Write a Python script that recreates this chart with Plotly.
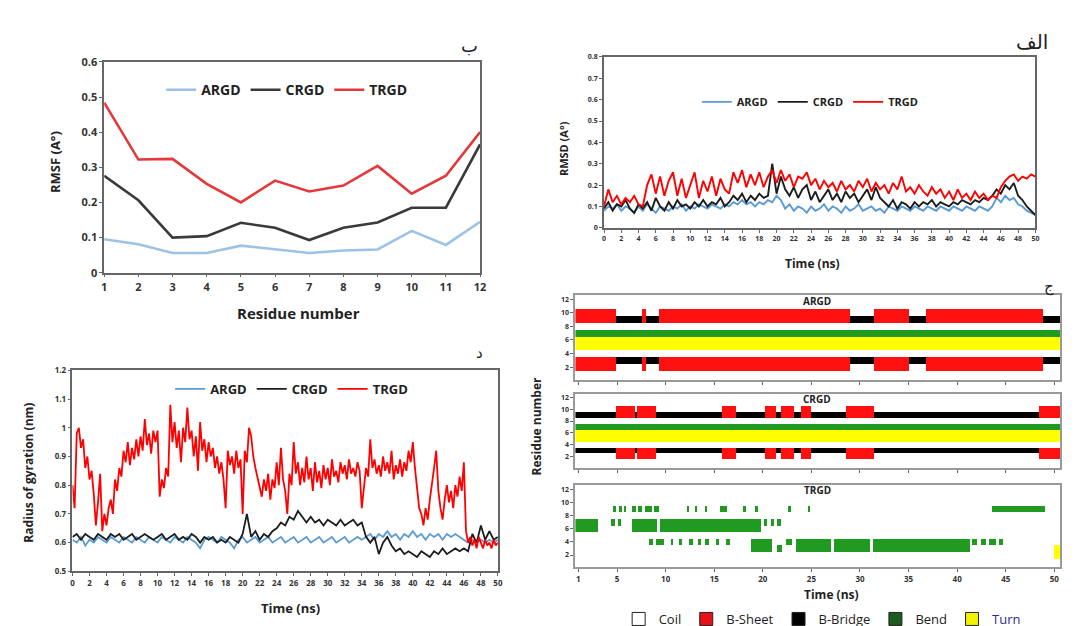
import plotly.graph_objects as go

W, H = 1078, 626

# ---------------- DATA ----------------
series_names = ["ARGD", "CRGD", "TRGD"]

# RMSF per residue
residues = list(range(1, 13))
rmsf_argd = [0.095, 0.081, 0.056, 0.056, 0.077, 0.067, 0.056, 0.063, 0.066, 0.119, 0.079, 0.145]
rmsf_crgd = [0.276, 0.206, 0.100, 0.104, 0.142, 0.128, 0.093, 0.128, 0.143, 0.185, 0.185, 0.365]
rmsf_trgd = [0.484, 0.322, 0.324, 0.253, 0.200, 0.262, 0.231, 0.248, 0.304, 0.225, 0.276, 0.400]

# RMSD vs time, sampled every 0.5 ns (0..50)
rmsd_argd = [0.08, 0.10, 0.09, 0.11, 0.08, 0.10, 0.09, 0.07, 0.10, 0.08,
             0.11, 0.09, 0.07, 0.10, 0.09, 0.08, 0.10, 0.09, 0.11, 0.08,
             0.10, 0.09, 0.11, 0.10, 0.09, 0.11, 0.10, 0.09, 0.11, 0.10,
             0.12, 0.11, 0.13, 0.11, 0.12, 0.10, 0.12, 0.11, 0.13, 0.12,
             0.15, 0.13, 0.09, 0.11, 0.08, 0.10, 0.09, 0.07, 0.10, 0.08,
             0.09, 0.11, 0.08, 0.10, 0.09, 0.07, 0.10, 0.08, 0.09, 0.11,
             0.08, 0.09, 0.10, 0.08, 0.09, 0.07, 0.10, 0.09, 0.08, 0.10,
             0.09, 0.08, 0.10, 0.09, 0.08, 0.10, 0.09, 0.08, 0.10, 0.09,
             0.08, 0.10, 0.09, 0.08, 0.10, 0.09, 0.08, 0.10, 0.09, 0.08,
             0.10, 0.14, 0.12, 0.15, 0.13, 0.14, 0.11, 0.10, 0.08, 0.07,
             0.06]
rmsd_crgd = [0.09, 0.12, 0.08, 0.11, 0.10, 0.13, 0.09, 0.07, 0.11, 0.09,
             0.12, 0.08, 0.14, 0.10, 0.08, 0.12, 0.09, 0.13, 0.10, 0.11,
             0.09, 0.12, 0.10, 0.13, 0.10, 0.12, 0.11, 0.14, 0.10, 0.12,
             0.15, 0.13, 0.16, 0.12, 0.15, 0.13, 0.16, 0.14, 0.15, 0.30,
             0.16, 0.24, 0.18, 0.15, 0.19, 0.14, 0.18, 0.20, 0.13, 0.17,
             0.12, 0.15, 0.18, 0.13, 0.16, 0.12, 0.17, 0.14, 0.16, 0.12,
             0.15, 0.18, 0.13, 0.19, 0.14, 0.12, 0.10, 0.13, 0.09, 0.12,
             0.11, 0.09, 0.12, 0.10, 0.12, 0.11, 0.13, 0.10, 0.12, 0.11,
             0.10, 0.12, 0.11, 0.13, 0.12, 0.11, 0.13, 0.12, 0.14, 0.13,
             0.15, 0.18, 0.16, 0.20, 0.18, 0.21, 0.15, 0.13, 0.10, 0.08,
             0.06]
rmsd_trgd = [0.10, 0.18, 0.12, 0.15, 0.11, 0.14, 0.12, 0.15, 0.11, 0.10,
             0.20, 0.25, 0.16, 0.24, 0.15, 0.22, 0.26, 0.15, 0.23, 0.14,
             0.20, 0.26, 0.14, 0.22, 0.17, 0.24, 0.15, 0.23, 0.18, 0.16,
             0.26, 0.21, 0.27, 0.19, 0.25, 0.20, 0.26, 0.19, 0.24, 0.27,
             0.21, 0.27, 0.22, 0.25, 0.19, 0.24, 0.23, 0.26, 0.20, 0.23,
             0.18, 0.22, 0.19, 0.21, 0.17, 0.22, 0.18, 0.20, 0.17, 0.22,
             0.19, 0.23, 0.17, 0.21, 0.18, 0.20, 0.16, 0.21, 0.18, 0.24,
             0.17, 0.19, 0.16, 0.20, 0.17, 0.15, 0.19, 0.16, 0.18, 0.14,
             0.17, 0.13, 0.18, 0.14, 0.16, 0.13, 0.17, 0.14, 0.16, 0.13,
             0.15, 0.14, 0.19, 0.22, 0.24, 0.25, 0.22, 0.24, 0.23, 0.25,
             0.24]

# Radius of gyration vs time (ARGD, CRGD every 0.5 ns; TRGD every 0.25 ns)
rg_argd = [0.61, 0.60, 0.62, 0.59, 0.61, 0.60, 0.62, 0.61, 0.60, 0.62,
           0.61, 0.60, 0.62, 0.61, 0.60, 0.62, 0.61, 0.60, 0.62, 0.61,
           0.60, 0.62, 0.61, 0.60, 0.62, 0.61, 0.60, 0.62, 0.61, 0.60,
           0.58, 0.61, 0.62, 0.61, 0.60, 0.62, 0.61, 0.60, 0.58, 0.61,
           0.62, 0.60, 0.61, 0.62, 0.60, 0.61, 0.62, 0.60, 0.61, 0.62,
           0.60, 0.61, 0.62, 0.60, 0.61, 0.62, 0.60, 0.61, 0.62, 0.60,
           0.61, 0.62, 0.60, 0.61, 0.62, 0.60, 0.61, 0.62, 0.61, 0.62,
           0.63, 0.61, 0.63, 0.62, 0.64, 0.62, 0.63, 0.61, 0.63, 0.62,
           0.64, 0.62, 0.63, 0.61, 0.63, 0.62, 0.63, 0.61, 0.63, 0.62,
           0.63, 0.62, 0.61, 0.60, 0.61, 0.60, 0.61, 0.60, 0.61, 0.60,
           0.61]
rg_crgd = [0.62, 0.63, 0.61, 0.63, 0.62, 0.61, 0.63, 0.62, 0.61, 0.63,
           0.62, 0.63, 0.61, 0.62, 0.63, 0.61, 0.62, 0.63, 0.62, 0.61,
           0.62, 0.63, 0.61, 0.62, 0.63, 0.61, 0.62, 0.61, 0.63, 0.62,
           0.60, 0.62, 0.61, 0.62, 0.60, 0.61, 0.60, 0.62, 0.61, 0.60,
           0.63, 0.70, 0.62, 0.64, 0.61, 0.63, 0.62, 0.64, 0.65, 0.67,
           0.66, 0.69, 0.68, 0.71, 0.69, 0.67, 0.69, 0.67, 0.68, 0.66,
           0.68, 0.67, 0.66, 0.68, 0.66, 0.67, 0.68, 0.66, 0.67, 0.62,
           0.60, 0.62, 0.56, 0.60, 0.62, 0.59, 0.57, 0.58, 0.56, 0.57,
           0.56, 0.55, 0.57, 0.56, 0.55, 0.57, 0.56, 0.58, 0.56, 0.57,
           0.58, 0.57, 0.58, 0.57, 0.63, 0.60, 0.66, 0.61, 0.64, 0.61,
           0.62]
rg_trgd = [0.80, 0.72, 0.98, 1.00,  0.93, 0.96, 0.86, 0.90,  0.82, 0.85, 0.77, 0.66,
           0.74, 0.84, 0.64, 0.70,  0.66, 0.72, 0.75, 0.70,  0.82, 0.78, 0.86, 0.83,
           0.92, 0.88, 0.95, 0.87,  0.93, 0.89, 0.96, 0.90,  0.97, 0.92, 1.03, 0.94,
           0.98, 0.91, 0.99, 0.95,  0.99, 0.76, 0.82, 0.79,  0.86, 0.83, 1.08, 0.95,
           1.02, 0.93, 0.99, 0.88,  1.00, 0.95, 1.07, 0.96,  0.99, 0.90, 0.97, 0.85,
           1.02, 0.92, 0.96, 0.88,  0.95, 0.90, 0.93, 0.86,  0.90, 0.84, 0.88, 0.82,
           0.72, 0.92, 0.87, 0.90,  0.84, 0.92, 0.86, 0.89,  0.70, 0.92, 0.88, 1.00,
           0.97, 0.90, 0.86, 0.83,  0.80, 0.76, 0.82, 0.78,  0.84, 0.75, 0.82, 0.79,
           0.88, 0.80, 0.93, 0.82,  0.78, 0.70, 0.84, 0.80,  0.95, 0.84, 0.88, 0.80,
           0.86, 0.81, 0.90, 0.82,  0.86, 0.78, 0.88, 0.81,  0.85, 0.79, 0.87, 0.82,
           0.86, 0.80, 0.89, 0.83,  0.85, 0.81, 0.88, 0.84,  0.87, 0.82, 0.89, 0.84,
           0.86, 0.83, 0.88, 0.85,  0.72, 0.80, 0.86, 0.83,  0.96, 0.86, 0.89, 0.84,
           0.87, 0.83, 0.90, 0.85,  0.88, 0.84, 0.92, 0.82,  0.87, 0.84, 0.89, 0.83,
           0.88, 0.85, 0.92, 0.88,  0.95, 0.86, 0.78, 0.72,  0.70, 0.66, 0.72, 0.68,
           0.75, 0.80, 0.86, 0.92,  0.78, 0.72, 0.68, 0.75,  0.80, 0.74, 0.78, 0.72,
           0.80, 0.76, 0.83, 0.78,  0.88, 0.64, 0.60, 0.62,  0.59, 0.61, 0.58, 0.62,
           0.60, 0.58, 0.61, 0.59,  0.60, 0.58, 0.61, 0.59,  0.60]

time_half = [i * 0.5 for i in range(len(rmsd_trgd))]
time_quarter = [i * 0.25 for i in range(len(rg_trgd))]
time_ticks = list(range(0, 51, 2))

# DSSP secondary structure (state codes: 0 Coil, 1 B-Sheet, 2 B-Bridge, 3 Bend, 4 Turn)
dssp_states = ["Coil", "B-Sheet", "B-Bridge", "Bend", "Turn"]
dssp_xticks = [1, 5, 10, 15, 20, 25, 30, 35, 40, 45, 50]
dssp_time = [0.75 + 0.1 * i for i in range(499)]

argd_sheet_periods = [(0.7, 4.9), (7.6, 8.0), (9.3, 29.0), (31.4, 35.0), (36.8, 48.8)]
argd_bridge_periods = [(4.9, 7.6), (8.0, 9.3), (29.0, 31.4), (35.0, 36.8), (48.8, 50.6)]
crgd_sheet_periods = [(4.9, 6.8), (7.1, 9.0), (15.8, 17.2), (20.2, 21.4), (21.9, 23.2),
                      (23.9, 25.0), (28.6, 31.4), (48.4, 50.6)]
crgd_bridge_periods = [(0.7, 4.9), (6.8, 7.1), (9.0, 15.8), (17.2, 20.2), (21.4, 21.9),
                       (23.2, 23.9), (25.0, 28.6), (31.4, 48.4)]
# (residue, start, end, state)
trgd_segments = [
    (9, 4.6, 4.9, 3), (9, 5.2, 5.5, 3), (9, 5.7, 5.9, 3), (9, 6.5, 6.9, 3), (9, 7.2, 7.6, 3),
    (9, 7.9, 8.6, 3), (9, 8.8, 9.3, 3), (9, 12.2, 12.4, 3), (9, 13.0, 13.2, 3), (9, 14.1, 14.3, 3),
    (9, 15.6, 16.3, 3), (9, 18.0, 18.3, 3), (9, 19.2, 19.5, 3), (9, 22.6, 22.9, 3),
    (9, 24.6, 24.9, 3), (9, 43.6, 49.0, 3),
    (7, 0.7, 3.0, 3), (6, 0.7, 3.0, 3), (7, 4.4, 4.8, 3), (7, 5.1, 5.4, 3),
    (7, 6.5, 9.1, 3), (6, 6.5, 9.1, 3), (7, 9.4, 19.8, 3), (6, 9.4, 19.8, 3),
    (7, 20.1, 20.4, 3), (7, 20.8, 21.2, 3), (7, 21.5, 21.9, 3),
    (4, 8.3, 8.7, 3), (4, 9.0, 9.8, 3), (4, 10.5, 10.8, 3), (4, 11.4, 11.7, 3), (4, 12.4, 12.8, 3),
    (4, 13.3, 13.6, 3), (4, 14.0, 14.5, 3), (4, 15.2, 15.5, 3), (4, 16.2, 16.6, 3),
    (4, 18.8, 20.9, 3), (3, 18.8, 20.9, 3), (3, 21.5, 22.0, 3), (4, 22.4, 23.0, 3),
    (4, 23.4, 27.0, 3), (3, 23.4, 27.0, 3), (4, 27.3, 31.0, 3), (3, 27.3, 31.0, 3),
    (4, 31.3, 41.3, 3), (3, 31.3, 41.3, 3),
    (4, 41.5, 42.0, 3), (4, 42.4, 43.0, 3), (4, 43.3, 44.0, 3), (4, 44.3, 44.7, 3),
    (3, 50.0, 50.6, 4), (2, 50.0, 50.6, 4),
]

# ---------------- BUILD ----------------
def px_x(a, b):
    return [a / W, b / W]


def px_y(top, bottom):
    return [1 - bottom / H, 1 - top / H]


def grid(segments):
    z = [[0] * len(dssp_time) for _ in residues]
    for res, t0, t1, st in segments:
        for j, tc in enumerate(dssp_time):
            if t0 <= tc < t1:
                z[res - 1][j] = st
    return z


def periodic_segments(sheet_periods, bridge_periods, sheet_rows, bridge_rows):
    segs = []
    for a, b in sheet_periods:
        for r in sheet_rows:
            segs.append((r, a, b, 1))
    for a, b in bridge_periods:
        for r in bridge_rows:
            segs.append((r, a, b, 2))
    segs += [(7, 0.7, 50.6, 3), (6, 0.7, 50.6, 4), (5, 0.7, 50.6, 4)]
    return segs


z_argd = grid(periodic_segments(argd_sheet_periods, argd_bridge_periods, [10, 9, 3, 2], [9, 3]))
z_crgd = grid(periodic_segments(crgd_sheet_periods, crgd_bridge_periods, [10, 9, 3, 2], [9, 3]))
z_trgd = grid(trgd_segments)

FONT = "Open Sans"
c_line = {"ARGD": "#5b9bd5", "CRGD": "#1c1c1c", "TRGD": "#ff0000"}
c_rmsf = {"ARGD": "#9cc2e5", "CRGD": "#3a3a3a", "TRGD": "#e5383b"}
dssp_colors = ["#ffffff", "#e8101a", "#000000", "#1e5b1e", "#f2f200"]
heat_colors = [[0, "#ffffff"], [0.2, "#ffffff"], [0.2, "#ff1010"], [0.4, "#ff1010"],
               [0.4, "#000000"], [0.6, "#000000"], [0.6, "#219a21"], [0.8, "#219a21"],
               [0.8, "#ffff00"], [1, "#ffff00"]]

fig = go.Figure()

# RMSF
for name, vals in zip(series_names, [rmsf_argd, rmsf_crgd, rmsf_trgd]):
    fig.add_trace(go.Scatter(x=residues, y=vals, mode="lines", name=name,
                             line=dict(color=c_rmsf[name], width=2.6),
                             xaxis="x", yaxis="y", legend="legend"))
# RMSD
for name, vals in zip(series_names, [rmsd_argd, rmsd_crgd, rmsd_trgd]):
    fig.add_trace(go.Scatter(x=time_half, y=vals, mode="lines", name=name,
                             line=dict(color=c_line[name], width=1.9),
                             xaxis="x2", yaxis="y2", legend="legend2"))
# Rg
for name, tt, vals in zip(series_names, [time_half, time_half, time_quarter],
                          [rg_argd, rg_crgd, rg_trgd]):
    fig.add_trace(go.Scatter(x=tt, y=vals, mode="lines", name=name,
                             line=dict(color=c_line[name], width=1.8),
                             xaxis="x3", yaxis="y3", legend="legend3"))
# DSSP heatmaps
for k, z in zip([4, 5, 6], [z_argd, z_crgd, z_trgd]):
    fig.add_trace(go.Heatmap(x=dssp_time, y=residues, z=z, zmin=0, zmax=4,
                             colorscale=heat_colors, showscale=False,
                             xaxis=f"x{k}", yaxis=f"y{k}", hoverinfo="skip"))
# DSSP legend entries
for st, col in zip(dssp_states, dssp_colors):
    label = st if st != "Turn" else "<span style='color:#2a2a9c'>Turn</span>"
    fig.add_trace(go.Scatter(x=[None], y=[None], mode="markers", name=label,
                             marker=dict(symbol="square", size=13, color=col,
                                         line=dict(color="#222", width=1)),
                             xaxis="x6", yaxis="y6", legend="legend4"))


def axis(domain, anchor, rng, fsize, **kw):
    d = dict(domain=domain, anchor=anchor, range=rng, showline=True, mirror=True,
             linecolor="#666", linewidth=1.5, ticks="outside", ticklen=3, tickcolor="#666",
             showgrid=False, zeroline=False,
             tickfont=dict(family=FONT, size=fsize, color="#333", weight="bold"))
    d.update(kw)
    return d


dssp_x = px_x(569, 1058)
layout = dict(
    width=W, height=H, margin=dict(l=0, r=0, t=0, b=0),
    paper_bgcolor="white", plot_bgcolor="white", showlegend=True,
    xaxis=axis(px_x(94, 473), "y", [1, 12], 11, dtick=1),
    yaxis=axis(px_y(47, 263), "x", [0, 0.6], 11, dtick=0.1),
    xaxis2=axis(px_x(598, 1033), "y2", [0, 50], 7, tickvals=time_ticks),
    yaxis2=axis(px_y(42, 217), "x2", [0, 0.8], 7, dtick=0.1),
    xaxis3=axis(px_x(62, 491), "y3", [0, 50], 8, tickvals=time_ticks),
    yaxis3=axis(px_y(363, 569), "x3", [0.5, 1.2], 8, dtick=0.1),
    xaxis4=axis(dssp_x, "y4", [0.7, 50.6], 8, tickvals=dssp_xticks, showticklabels=False, linecolor="#999"),
    yaxis4=axis(px_y(286, 373), "x4", [0.1, 12.6], 7, dtick=2, linecolor="#999"),
    xaxis5=axis(dssp_x, "y5", [0.7, 50.6], 8, tickvals=dssp_xticks, showticklabels=False, linecolor="#999"),
    yaxis5=axis(px_y(387, 463), "x5", [0.1, 12.6], 7, dtick=2, linecolor="#999"),
    xaxis6=axis(dssp_x, "y6", [0.7, 50.6], 8, tickvals=dssp_xticks, linecolor="#999"),
    yaxis6=axis(px_y(481, 565), "x6", [0.1, 12.6], 7, dtick=2, linecolor="#999"),
)


def leg(cx, cy, size):
    return dict(x=cx / W, y=1 - cy / H, xanchor="center", yanchor="middle",
                orientation="h", bgcolor="rgba(0,0,0,0)", itemwidth=30,
                font=dict(family=FONT, size=size, color="#222", weight="bold"))


layout["legend"] = leg(278, 76, 14)
layout["legend2"] = leg(806, 88, 11)
layout["legend3"] = leg(283, 382, 13)
layout["legend4"] = dict(x=818 / W, y=1 - 618 / H, xanchor="center", yanchor="middle",
                         orientation="h", bgcolor="rgba(0,0,0,0)", itemwidth=30,
                         font=dict(family=FONT, size=13, color="#222"))


def ann(text, x, y, size, angle=0, bold=True, family=FONT):
    return dict(text=text, x=x / W, y=1 - y / H, xref="paper", yref="paper",
                showarrow=False, textangle=angle, xanchor="center", yanchor="middle",
                font=dict(family=family, size=size, color="#222",
                          weight="bold" if bold else "normal"))


annotations = [
    ann("RMSF (A°)", 45, 150, 13, -90),
    ann("Residue number", 290, 304, 15),
    ann("RMSD (A°)", 557, 136, 11, -90),
    ann("Time (ns)", 808, 254, 12),
    ann("Radius of gyration (nm)", 18, 468, 12, -90),
    ann("Time (ns)", 282, 607, 13),
    ann("Time (ns)", 827, 593, 12),
    ann("Residue number", 530, 420, 12, -90),
    ann("ARGD", 813, 292, 10),
    ann("CRGD", 813, 392, 10),
    ann("TRGD", 813, 486, 10),
    ann("ب", 462, 30, 18, bold=False, family="DejaVu Sans"),
    ann("الف", 1030, 27, 20, bold=False, family="DejaVu Sans"),
    ann("د", 472, 345, 15, bold=False, family="DejaVu Sans"),
    ann("ج", 1047, 277, 15, bold=False, family="DejaVu Sans"),
]
layout["annotations"] = annotations

fig.update_layout(**layout)
fig.write_html("out.html")
